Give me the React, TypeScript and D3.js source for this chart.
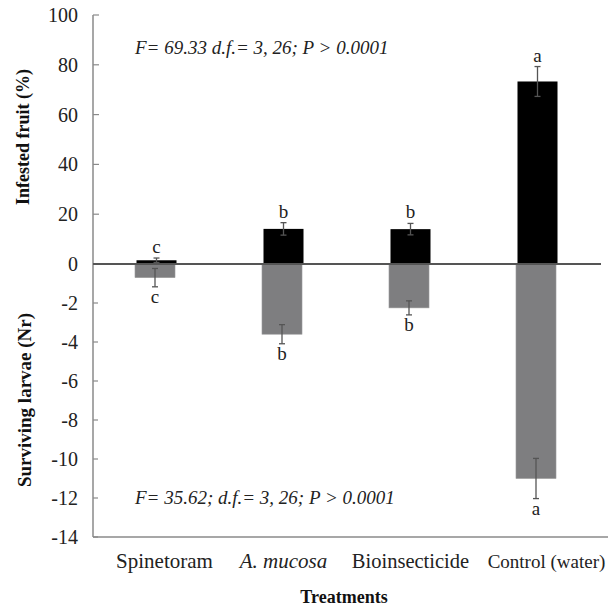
import * as d3 from "d3";
import React from "react";

const treatments = ["Spinetoram", "A. mucosa", "Bioinsecticide", "Control (water)"];
const infested = [1.5, 14.1, 14.0, 73.3];
const infestedErr = [0.9, 2.5, 2.3, 6.0];
const infestedLetters = ["c", "b", "b", "a"];
const larvae = [-0.7, -3.6, -2.25, -11.0];
const larvaeErr = [0.47, 0.49, 0.36, 1.03];
const larvaeLetters = ["c", "b", "b", "a"];
const topTicks = [0, 20, 40, 60, 80, 100];
const bottomTicks = [-2, -4, -6, -8, -10, -12, -14];
const topStat = "F= 69.33 d.f.= 3, 26; P > 0.0001";
const bottomStat = "F= 35.62; d.f.= 3, 26; P > 0.0001";

const W = 608;
const H = 608;
const axisX = 93;
const plotRight = 601;
const zeroY = 264;
const font = "'Liberation Serif', 'Times New Roman', serif";

export default function App() {
  const x = d3.scaleBand<string>()
    .domain(treatments)
    .range([axisX, plotRight])
    .paddingInner(0.685)
    .paddingOuter(0.3425);
  const yTop = d3.scaleLinear().domain([0, 100]).range([zeroY, 15]);
  const yBot = d3.scaleLinear().domain([0, -14]).range([zeroY, 537]);
  const bw = x.bandwidth();
  const labelDx = [8, 0, 0, 9];
  const labelSize = [21, 21, 20.5, 19];
  const capW = 3;

  return (
    <svg width={W} height={H} style={{ position: "absolute", left: 0, top: 0, background: "#fff" }}
      fontFamily={font}>
      {/* bars: infested fruit (up) */}
      {treatments.map((t, i) => (
        <rect key={"b" + t} x={x(t)} y={yTop(infested[i])} width={bw}
          height={zeroY - yTop(infested[i])} fill="#000" />
      ))}
      {/* bars: surviving larvae (down) */}
      {treatments.map((t, i) => (
        <rect key={"g" + t} x={x(t)! - 1.5} y={zeroY} width={bw}
          height={yBot(larvae[i]) - zeroY} fill="#7e7e80" stroke="#9a9a9a" strokeWidth={0.6} />
      ))}

      {/* axes */}
      <line x1={axisX} x2={axisX} y1={yTop(100)} y2={yBot(-14)} stroke="#8a8a8a" strokeWidth={1.5} />
      <line x1={axisX} x2={W} y1={yBot(-14)} y2={yBot(-14)} stroke="#8a8a8a" strokeWidth={1.5} />
      {topTicks.map((v) => (
        <g key={"tt" + v}>
          <line x1={axisX} x2={axisX + 6} y1={yTop(v)} y2={yTop(v)} stroke="#8a8a8a" strokeWidth={1.2} />
          <text x={78} y={yTop(v)} dy="0.35em" textAnchor="end" fontSize={20} fill="#222">{v}</text>
        </g>
      ))}
      {bottomTicks.map((v) => (
        <g key={"bt" + v}>
          <line x1={axisX} x2={axisX + 5} y1={yBot(v)} y2={yBot(v)} stroke="#8a8a8a" strokeWidth={1.2} />
          <text x={78} y={yBot(v)} dy="0.35em" textAnchor="end" fontSize={20} fill="#222">{v}</text>
        </g>
      ))}

      {/* zero line */}
      <line x1={axisX} x2={plotRight} y1={zeroY} y2={zeroY} stroke="#555" strokeWidth={2} />

      {/* error bars and letters */}
      {treatments.map((t, i) => {
        const cx = x(t)! + bw / 2;
        const hi = yTop(infested[i] + infestedErr[i]);
        const lo = yTop(infested[i] - infestedErr[i]);
        return (
          <g key={"e" + t} stroke="#555" strokeWidth={1.3}>
            <line x1={cx} x2={cx} y1={hi} y2={lo} />
            <line x1={cx - capW} x2={cx + capW} y1={hi} y2={hi} />
            <line x1={cx - capW} x2={cx + capW} y1={lo} y2={lo} />
            <text x={cx} y={hi - 5} textAnchor="middle" fontSize={19} fill="#222" stroke="none">
              {infestedLetters[i]}
            </text>
          </g>
        );
      })}
      {treatments.map((t, i) => {
        const cx = x(t)! + bw / 2 - 1.5;
        const hi = yBot(larvae[i] + larvaeErr[i]);
        const lo = yBot(larvae[i] - larvaeErr[i]);
        return (
          <g key={"f" + t} stroke="#555" strokeWidth={1.3}>
            <line x1={cx} x2={cx} y1={hi} y2={lo} />
            <line x1={cx - capW} x2={cx + capW} y1={hi} y2={hi} />
            <line x1={cx - capW} x2={cx + capW} y1={lo} y2={lo} />
            <text x={cx} y={lo + 16} textAnchor="middle" fontSize={19} fill="#222" stroke="none">
              {larvaeLetters[i]}
            </text>
          </g>
        );
      })}

      {/* stats */}
      <text x={135} y={54} fontSize={19} fontStyle="italic" fill="#222">{topStat}</text>
      <text x={135} y={504} fontSize={19} fontStyle="italic" fill="#222">{bottomStat}</text>

      {/* category labels */}
      {treatments.map((t, i) => (
        <text key={"l" + t} x={x(t)! + bw / 2 + labelDx[i]} y={568} textAnchor="middle"
          fontSize={labelSize[i]} fontStyle={i === 1 ? "italic" : "normal"} fill="#222">{t}</text>
      ))}

      {/* axis titles */}
      <text x={344} y={603} textAnchor="middle" fontSize={18} fontWeight="bold" fill="#111">Treatments</text>
      <text transform="translate(29,137) rotate(-90)" textAnchor="middle" fontSize={18}
        fontWeight="bold" fill="#111">Infested fruit (%)</text>
      <text transform="translate(31,400) rotate(-90)" textAnchor="middle" fontSize={19}
        fontWeight="bold" fill="#111">Surviving larvae (Nr)</text>
    </svg>
  );
}
